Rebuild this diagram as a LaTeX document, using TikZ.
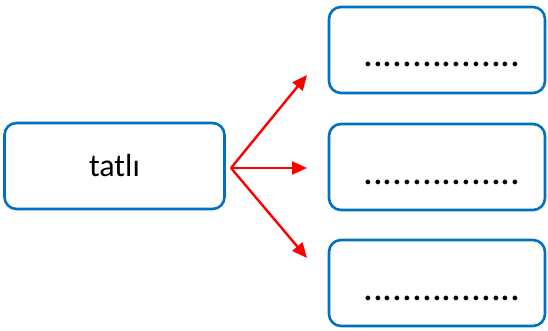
\documentclass[tikz,border=0pt]{standalone}
\usepackage{fontspec}
\setmainfont{Carlito}
\usepackage{xcolor}
\definecolor{boxBlue}{HTML}{0070C0}
\definecolor{arrowRed}{HTML}{FF0000}
\usepackage{tikz}
\usetikzlibrary{arrows.meta,positioning}
\tikzset{
    wordbox/.style={
        draw=boxBlue,
        fill=white,
        rectangle,
        rounded corners=12pt,
        line width=2.6pt,
        minimum width=219pt,
        minimum height=86pt,
        align=center,
        font=\fontsize{32}{38}\selectfont
    },
    blank/.style={
        anchor=base,
        inner sep=0pt,
        font=\fontsize{39}{44}\selectfont
    },
    redarrow/.style={
        -{Triangle[length=15pt,width=13pt]},
        line width=2.4pt,
        color=arrowRed
    }
}

\begin{document}
\begin{tikzpicture}[x=1pt,y=-1pt]
    \useasboundingbox (0,0) rectangle (548,331);

    % source word
    \node[wordbox, minimum width=220pt] (word) at (114.5,166) {tatlı};

    % answer boxes
    \node[wordbox, minimum width=216pt] (ans1) at (437,50) {};
    \node[wordbox, minimum width=216pt] (ans2) at (437,167) {};
    \node[wordbox, minimum width=216pt] (ans3) at (437,283) {};

    % dotted blanks
    \node[blank] (dots1) at ([xshift=5pt,yshift=-17pt]ans1.center) {................};
    \node[blank] (dots2) at ([xshift=5pt,yshift=-17pt]ans2.center) {................};
    \node[blank] (dots3) at ([xshift=5pt,yshift=-17pt]ans3.center) {................};

    % arrows
    \coordinate (hub) at (231,168);
    \coordinate (tip1) at (307,75);
    \coordinate (tip2) at (307,168);
    \coordinate (tip3) at (307,258);
    \draw[redarrow] (hub) -- (tip1);
    \draw[redarrow] (hub) -- (tip2);
    \draw[redarrow] (hub) -- (tip3);
\end{tikzpicture}
\end{document}
